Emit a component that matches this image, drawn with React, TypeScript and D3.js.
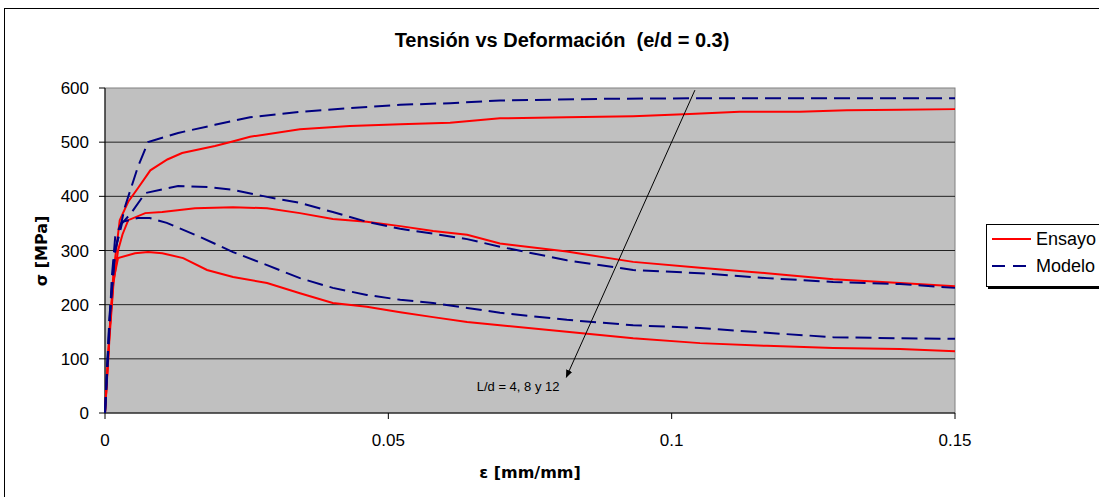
import React from 'react';
import * as d3 from 'd3';

// strain [mm/mm], stress [MPa]
type Pt = [number, number];

const ensayo4: Pt[] = [
  [0, 0], [0.0008, 150], [0.0015, 260], [0.0026, 356], [0.0041, 390], [0.0058, 415],
  [0.008, 448], [0.011, 468], [0.0136, 480], [0.0194, 493], [0.022, 500], [0.0256, 510],
  [0.0344, 524], [0.0432, 530], [0.0521, 533], [0.0609, 536], [0.0697, 544], [0.0815, 546],
  [0.0932, 548], [0.1032, 552], [0.112, 556], [0.1226, 556], [0.1309, 559], [0.1403, 560],
  [0.15, 561],
];
const ensayo8: Pt[] = [
  [0, 0], [0.0008, 140], [0.0015, 240], [0.0023, 300], [0.0031, 330], [0.0041, 356],
  [0.0071, 369], [0.0101, 371], [0.0159, 378], [0.0226, 380], [0.0286, 378], [0.0344, 369],
  [0.0402, 358], [0.0462, 353], [0.0521, 345], [0.0579, 336], [0.0639, 329], [0.0697, 313],
  [0.0815, 298], [0.0932, 279], [0.105, 268], [0.1168, 258], [0.1285, 247], [0.1403, 240],
  [0.15, 234],
];
const ensayo12: Pt[] = [
  [0, 0], [0.0008, 150], [0.0015, 245], [0.0023, 286], [0.0053, 295], [0.0076, 297],
  [0.0101, 295], [0.0138, 286], [0.018, 264], [0.0226, 251], [0.0286, 240], [0.0344, 221],
  [0.0402, 203], [0.0462, 196], [0.0521, 186], [0.0579, 177], [0.0639, 168], [0.0697, 162],
  [0.0815, 150], [0.0932, 138], [0.105, 129], [0.1168, 124], [0.1285, 120], [0.1403, 118],
  [0.15, 114],
];

const modelo4: Pt[] = [
  [0, 0], [0.0008, 180], [0.0018, 300], [0.0035, 380], [0.0058, 454], [0.0076, 500],
  [0.0129, 517], [0.0194, 532], [0.0256, 546], [0.0344, 556], [0.0432, 563], [0.0521, 569],
  [0.0609, 572], [0.0697, 577], [0.0874, 580], [0.1032, 581], [0.15, 581],
];
const modelo8: Pt[] = [
  [0, 0], [0.0008, 170], [0.0018, 300], [0.003, 350], [0.0046, 369], [0.0071, 406],
  [0.0129, 419], [0.0182, 417], [0.0226, 412], [0.0286, 399], [0.0344, 388], [0.0402, 371],
  [0.0462, 353], [0.0521, 340], [0.0579, 331], [0.0639, 321], [0.0697, 307], [0.0815, 282],
  [0.0932, 264], [0.105, 258], [0.1168, 249], [0.1285, 242], [0.1403, 238], [0.15, 231],
];
const modelo12: Pt[] = [
  [0, 0], [0.0008, 160], [0.0012, 250], [0.0018, 325], [0.003, 353], [0.0058, 360],
  [0.0079, 360], [0.0109, 351], [0.0168, 325], [0.0226, 297], [0.0286, 273], [0.0344, 249],
  [0.0402, 231], [0.0462, 218], [0.0521, 209], [0.0579, 203], [0.0639, 194], [0.0697, 185],
  [0.0815, 172], [0.0932, 162], [0.105, 157], [0.1168, 148], [0.1285, 140], [0.1403, 138],
  [0.15, 137],
];

const xTicks = [0, 0.05, 0.1, 0.15];
const yTicks = [0, 100, 200, 300, 400, 500, 600];

// annotation arrow, in data units
const arrowFrom: Pt = [0.1041, 596];
const arrowTo: Pt = [0.0814, 66];
const arrowLabel = 'L/d = 4, 8 y 12';
const arrowLabelAt: Pt = [0.0656, 41];

const FONT = '"Liberation Sans", Arial, sans-serif';
const LABEL_FONT = '"DejaVu Sans", Verdana, sans-serif';

function App() {
  const left = 105, right = 955, top = 88, bottom = 413;
  const x = d3.scaleLinear().domain([0, 0.15]).range([left, right]);
  const y = d3.scaleLinear().domain([0, 600]).range([bottom, top]);
  const line = d3.line<Pt>().x(d => x(d[0])).y(d => y(d[1]));

  const ensayos = [ensayo4, ensayo8, ensayo12];
  const modelos = [modelo4, modelo8, modelo12];
  const fmt = (v: number) => (v === 0 ? '0' : String(v));

  return (
    <svg width={1099} height={497} style={{ position: 'absolute', left: 0, top: 0, background: '#fff' }}
      fontFamily={FONT}>
      <defs>
        <marker id="arr" viewBox="0 0 10 10" refX="9" refY="5" markerWidth="8" markerHeight="8" orient="auto">
          <path d="M0,1 L10,5 L0,9 z" fill="#000" />
        </marker>
      </defs>
      {/* chart frame */}
      <rect x={4.5} y={8.5} width={1110} height={500} fill="#fff" stroke="#000" />

      <text x={562} y={47} textAnchor="middle" fontSize={20} fontWeight="bold" style={{ whiteSpace: 'pre' }}>
        {'Tensión vs Deformación  (e/d = 0.3)'}
      </text>

      {/* plot area */}
      <rect x={left} y={top} width={right - left} height={bottom - top} fill="#c0c0c0" stroke="#808080" />
      {yTicks.filter(t => t > 0 && t < 600).map(t => (
        <line key={t} x1={left} x2={right} y1={y(t)} y2={y(t)} stroke="#222" strokeWidth={1} />
      ))}

      {/* axes */}
      <line x1={left} x2={left} y1={top} y2={bottom} stroke="#000" />
      <line x1={left} x2={right} y1={bottom} y2={bottom} stroke="#000" />
      {yTicks.map(t => (
        <g key={t}>
          <line x1={left - 6} x2={left} y1={y(t)} y2={y(t)} stroke="#000" />
          <text x={left - 16} y={y(t) + 6} textAnchor="end" fontSize={17}>{fmt(t)}</text>
        </g>
      ))}
      {xTicks.map(t => (
        <g key={t}>
          <line x1={x(t)} x2={x(t)} y1={bottom} y2={bottom + 6} stroke="#000" />
          <text x={x(t)} y={bottom + 33} textAnchor="middle" fontSize={17}>{fmt(t)}</text>
        </g>
      ))}

      {/* series */}
      {ensayos.map((d, i) => (
        <path key={'e' + i} d={line(d) ?? ''} fill="none" stroke="#ff0000" strokeWidth={2} />
      ))}
      {modelos.map((d, i) => (
        <path key={'m' + i} d={line(d) ?? ''} fill="none" stroke="#000080" strokeWidth={2}
          strokeDasharray="16,7" />
      ))}

      {/* annotation */}
      <line x1={x(arrowFrom[0])} y1={y(arrowFrom[1])} x2={x(arrowTo[0])} y2={y(arrowTo[1])}
        stroke="#000" strokeWidth={1} markerEnd="url(#arr)" />
      <text x={x(arrowLabelAt[0])} y={y(arrowLabelAt[1])} fontSize={13}>{arrowLabel}</text>

      {/* axis titles */}
      <text transform="translate(47,251) rotate(-90)" textAnchor="middle" fontSize={16} fontWeight="bold"
        fontFamily={LABEL_FONT}>
        σ [MPa]
      </text>
      <text x={530} y={478} textAnchor="middle" fontSize={16} fontWeight="bold" fontFamily={LABEL_FONT}>
        ε [mm/mm]
      </text>

      {/* legend */}
      <rect x={988} y={226} width={130} height={63} fill="#000" />
      <rect x={986.5} y={224.5} width={130} height={62} fill="#fff" stroke="#000" />
      <line x1={992} x2={1031} y1={239} y2={239} stroke="#ff0000" strokeWidth={2} />
      <text x={1036} y={245} fontSize={18}>Ensayo</text>
      <line x1={992} x2={1031} y1={266} y2={266} stroke="#000080" strokeWidth={2} strokeDasharray="13,8" />
      <text x={1036} y={272} fontSize={18}>Modelo</text>
    </svg>
  );
}

export default App;
